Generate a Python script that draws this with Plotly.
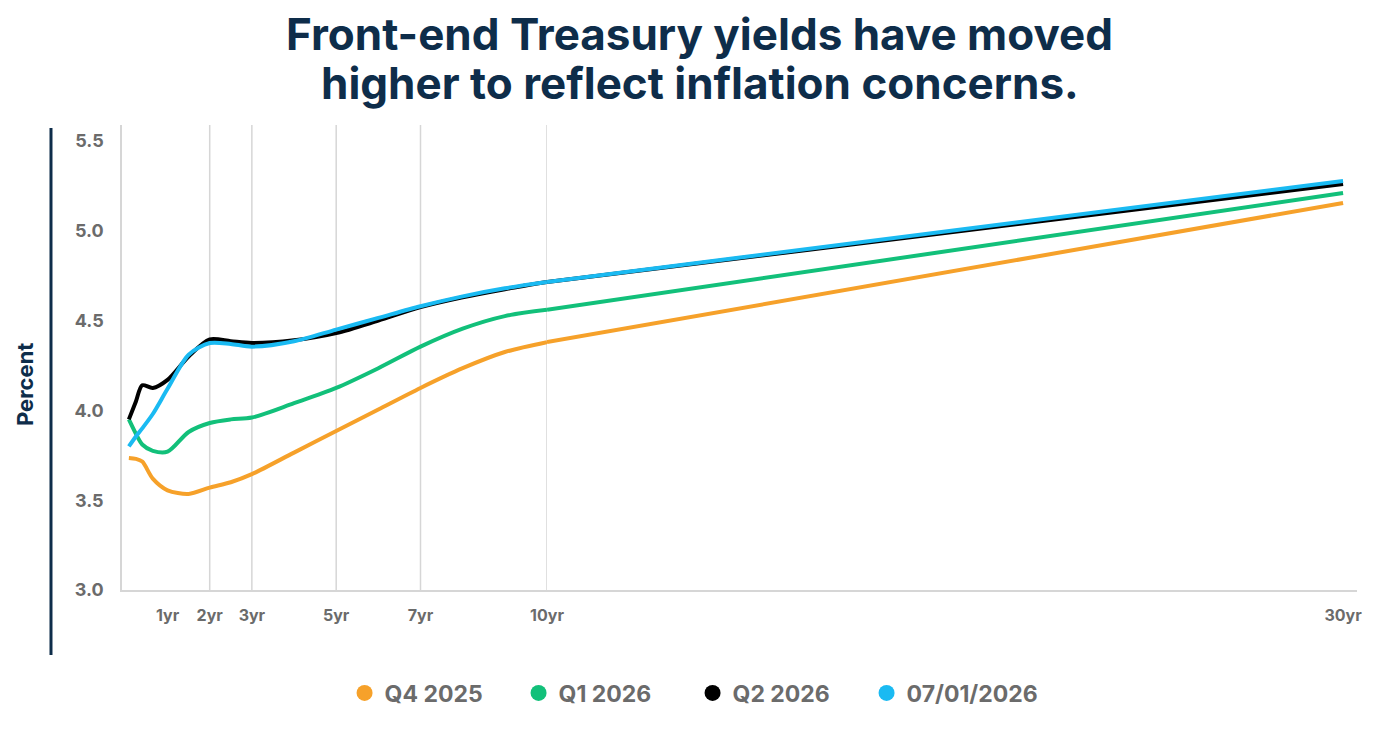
import plotly.graph_objects as go

# ---- data ----
tenors_short = [0.083, 0.25, 0.4, 0.65, 1, 1.5, 2, 2.5, 3, 4, 5, 6, 7, 8, 9, 10]
tenors_long = [10, 20, 30]

q4_2025_short = [3.735, 3.73, 3.715, 3.62, 3.555, 3.535, 3.57, 3.60, 3.645, 3.765, 3.885, 4.005, 4.125, 4.235, 4.325, 4.38]
q4_2025_long = [4.38, 4.77, 5.155]

q1_2026_short = [3.95, 3.87, 3.81, 3.775, 3.77, 3.88, 3.93, 3.95, 3.96, 4.04, 4.125, 4.235, 4.355, 4.455, 4.525, 4.56]
q1_2026_long = [4.56, 4.885, 5.21]

q2_2026_short = [3.95, 4.05, 4.14, 4.125, 4.17, 4.30, 4.395, 4.385, 4.375, 4.39, 4.43, 4.50, 4.575, 4.63, 4.675, 4.715]
q2_2026_long = [4.715, 4.99, 5.26]

jul_2026_short = [3.80, 3.855, 3.90, 3.98, 4.12, 4.31, 4.375, 4.37, 4.355, 4.385, 4.45, 4.515, 4.58, 4.635, 4.68, 4.715]
jul_2026_long = [4.715, 4.996, 5.277]

series_names = ["Q4 2025", "Q1 2026", "Q2 2026", "07/01/2026"]
series_colors = ["#F6A12A", "#12C07A", "#000000", "#1ABAF2"]
series_short = [q4_2025_short, q1_2026_short, q2_2026_short, jul_2026_short]
series_long = [q4_2025_long, q1_2026_long, q2_2026_long, jul_2026_long]

tick_short_vals = [1, 2, 3, 5, 7, 10]
tick_short_text = ["1yr", "2yr", "3yr", "5yr", "7yr", "10yr"]
grid_vals = [2, 3, 5, 7, 10]
tick_long_vals = [30]
tick_long_text = ["30yr"]
y_ticks = [3.0, 3.5, 4.0, 4.5, 5.0, 5.5]

title_lines = ["Front-end Treasury yields have moved", "higher to reflect inflation concerns."]

NAVY = "#0E2D4A"
GRAY = "#6B6B6B"
GRID = "#D6D6D6"
FONT = "Inter"

fig = go.Figure()

for name, color, ys, yl in zip(series_names, series_colors, series_short, series_long):
    fig.add_trace(go.Scatter(x=tenors_short, y=ys, mode="lines", xaxis="x", yaxis="y",
                             line=dict(color=color, width=4, shape="spline", smoothing=0.8),
                             showlegend=False, hoverinfo="skip", legendgroup=name))
    fig.add_trace(go.Scatter(x=tenors_long, y=yl, mode="lines", xaxis="x2", yaxis="y",
                             line=dict(color=color, width=4),
                             showlegend=False, hoverinfo="skip", legendgroup=name))

for name, color in zip(series_names, series_colors):
    fig.add_trace(go.Scatter(x=[None], y=[None], mode="markers", name=name, legendgroup=name,
                             marker=dict(color=color, size=18, symbol="circle")))

split = 425 / 1235

fig.update_layout(
    width=1400, height=734,
    margin=dict(l=122, r=43, t=125, b=144),
    paper_bgcolor="white", plot_bgcolor="white",
    font=dict(family=FONT, color=GRAY),
    xaxis=dict(domain=[0, split], range=[-0.08, 10], tickvals=tick_short_vals, ticktext=tick_short_text,
               showgrid=False, zeroline=False, showline=True, linecolor=GRID, linewidth=1.5,
               ticks="", ticklabelstandoff=10,
               tickfont=dict(family=FONT, size=16, color=GRAY, weight="bold")),
    xaxis2=dict(domain=[split, 1], range=[10, 30.35], tickvals=tick_long_vals, ticktext=tick_long_text,
                anchor="y", showgrid=False, zeroline=False, showline=True, linecolor=GRID, linewidth=1.5,
                ticks="", ticklabelstandoff=10,
                tickfont=dict(family=FONT, size=16, color=GRAY, weight="bold")),
    yaxis=dict(range=[3.0, 5.589], tickvals=y_ticks, tickformat=".1f", showgrid=False, zeroline=False,
               showline=True, linecolor=GRID, linewidth=1.5, ticks="", ticklabelstandoff=13,
               tickfont=dict(family=FONT, size=18, color=GRAY, weight="bold")),
    legend=dict(orientation="h", x=0.462, xanchor="center", y=-0.2215, yanchor="middle",
                font=dict(family=FONT, size=23, color=GRAY, weight="bold"),
                entrywidth=129, itemclick=False, itemdoubleclick=False),
    showlegend=True,
)

# vertical gridlines at selected tenors
for gv in grid_vals:
    fig.add_shape(type="line", xref="x", yref="paper", x0=gv, x1=gv, y0=0, y1=1,
                  line=dict(color=GRID, width=1.5), layer="below")

fig.add_shape(type="line", xref="paper", yref="paper", x0=-0.0575, x1=-0.0575, y0=0.9935, y1=-0.1398,
              line=dict(color=NAVY, width=3))

fig.add_annotation(text="<b>Percent</b>", xref="paper", yref="paper", x=-0.0785, y=0.441,
                   textangle=-90, showarrow=False, font=dict(family=FONT, size=22, color=NAVY),
                   xanchor="center", yanchor="middle")

for line_text, ypos in zip(title_lines, [1.1957, 1.0903]):
    fig.add_annotation(text="<b>" + line_text + "</b>", xref="paper", yref="paper", x=0.468, y=ypos,
                       showarrow=False, font=dict(family=FONT, size=44, color=NAVY),
                       xanchor="center", yanchor="middle")

fig.write_html("out.html")
